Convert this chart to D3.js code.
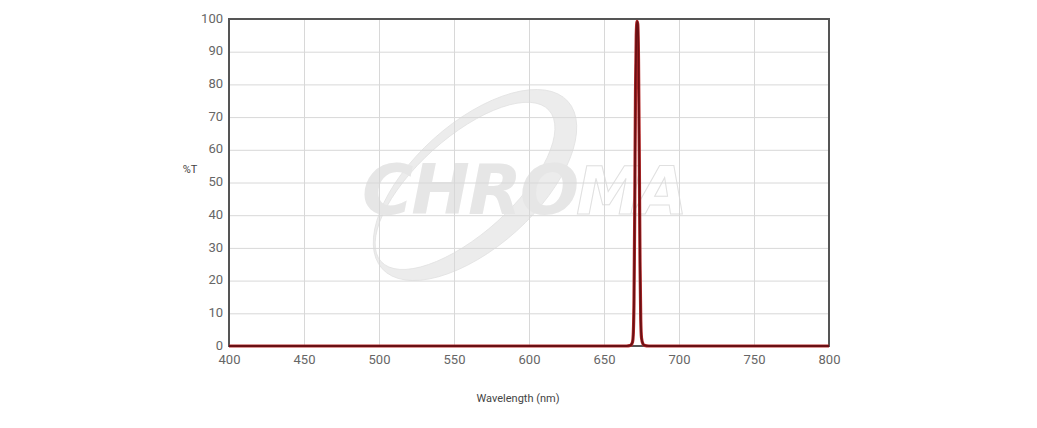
<!DOCTYPE html>
<html><head><meta charset="utf-8">
<script src="https://cdn.jsdelivr.net/npm/d3@7"></script>
<style>body{margin:0;background:#fff;} svg{display:block;font-family:Roboto, "Open Sans", sans-serif;}</style>
</head><body>
<svg id="c" width="1037" height="428"></svg>
<script>
const wavelengths = [400, 600, 665, 667, 668, 669, 669.5, 670, 670.5, 671, 671.5, 672, 672.5, 673, 673.5, 674, 674.5, 675, 676, 677, 680, 700, 800];
const transmission = [0, 0, 0, 0.1, 0.3, 1.2, 3.5, 14, 42, 78, 95, 99.3, 98.5, 88, 60, 26, 8, 2.5, 0.6, 0.2, 0, 0, 0];
const xTicks = [400, 450, 500, 550, 600, 650, 700, 750, 800];
const yTicks = [0, 10, 20, 30, 40, 50, 60, 70, 80, 90, 100];

const svg = d3.select("#c");
const L = 229, R = 829, T = 19, B = 346;
const x = d3.scaleLinear().domain([400, 800]).range([L, R]);
const y = d3.scaleLinear().domain([0, 100]).range([B, T]);

// watermark
const wm = svg.append("g").attr("class", "wm");
const cx = 475, cy = 185;
const crescent = "M" + (cx) + "," + (cy) + " m-125,0 a125,62 0 1,0 250,0 a125,62 0 1,0 -250,0 Z " +
  "M" + (cx - 8) + "," + (cy - 6) + " m-113,0 a113,48 0 1,0 226,0 a113,48 0 1,0 -226,0 Z";
wm.append("path").attr("d", crescent).attr("fill-rule", "evenodd").attr("fill", "#ececec")
  .attr("stroke", "#e2e2e2").attr("stroke-width", 0.8)
  .attr("transform", `rotate(-42 ${cx} ${cy})`);
wm.append("text").attr("x", 362).attr("y", 214).attr("font-size", 70).attr("font-weight", 900)
  .attr("font-style", "italic").attr("font-family", "'DejaVu Sans', sans-serif")
  .attr("fill", "#e6e6e6").attr("letter-spacing", -2).text("CHRO");
wm.append("text").attr("x", 576).attr("y", 214).attr("font-size", 66).attr("font-weight", 900)
  .attr("font-style", "italic").attr("font-family", "'DejaVu Sans', sans-serif")
  .attr("fill", "none").attr("stroke", "#e0e0e0").attr("stroke-width", 1).attr("letter-spacing", -5).text("MA");

// grid
svg.append("g").selectAll("line").data(yTicks).join("line")
  .attr("x1", L).attr("x2", R).attr("y1", d => y(d) + 0.5).attr("y2", d => y(d) + 0.5)
  .attr("stroke", "#d8d8d8").attr("stroke-width", 1);
svg.append("g").selectAll("line").data(xTicks).join("line")
  .attr("y1", T).attr("y2", B).attr("x1", d => x(d) + 0.5).attr("x2", d => x(d) + 0.5)
  .attr("stroke", "#d8d8d8").attr("stroke-width", 1);

// axes labels
const yAxis = d3.axisLeft(y).tickValues(yTicks).tickSize(0).tickPadding(6);
const gy = svg.append("g").attr("transform", `translate(${L},-1)`).call(yAxis);
gy.select(".domain").remove();
gy.selectAll("text").attr("font-size", 13).attr("fill", "#666").attr("font-family", "Roboto, sans-serif");
const xAxis = d3.axisBottom(x).tickValues(xTicks).tickSize(0).tickPadding(9);
const gx = svg.append("g").attr("transform", `translate(0,${B})`).call(xAxis);
gx.select(".domain").remove();
gx.selectAll("text").attr("font-size", 13).attr("fill", "#666").attr("font-family", "Roboto, sans-serif");

// frame
svg.append("rect").attr("x", L).attr("y", T).attr("width", R - L).attr("height", B - T)
  .attr("fill", "none").attr("stroke", "#555").attr("stroke-width", 2);

// curve
const line = d3.line().x((d, i) => x(wavelengths[i])).y(d => y(d)).curve(d3.curveMonotoneX);
svg.append("path").datum(transmission).attr("d", line).attr("fill", "none")
  .attr("stroke", "#b52a2a").attr("stroke-width", 3.2).attr("stroke-linejoin", "round");
svg.append("path").datum(transmission).attr("d", line).attr("fill", "none")
  .attr("stroke", "#6a1014").attr("stroke-width", 1.8).attr("stroke-linejoin", "round");

// titles
svg.append("text").attr("x", 518).attr("y", 402).attr("text-anchor", "middle")
  .attr("font-size", 11).attr("fill", "#444").text("Wavelength (nm)");
svg.append("text").attr("x", 190).attr("y", 173).attr("text-anchor", "middle")
  .attr("font-size", 11).attr("fill", "#444").text("%T");
</script>
</body></html>
